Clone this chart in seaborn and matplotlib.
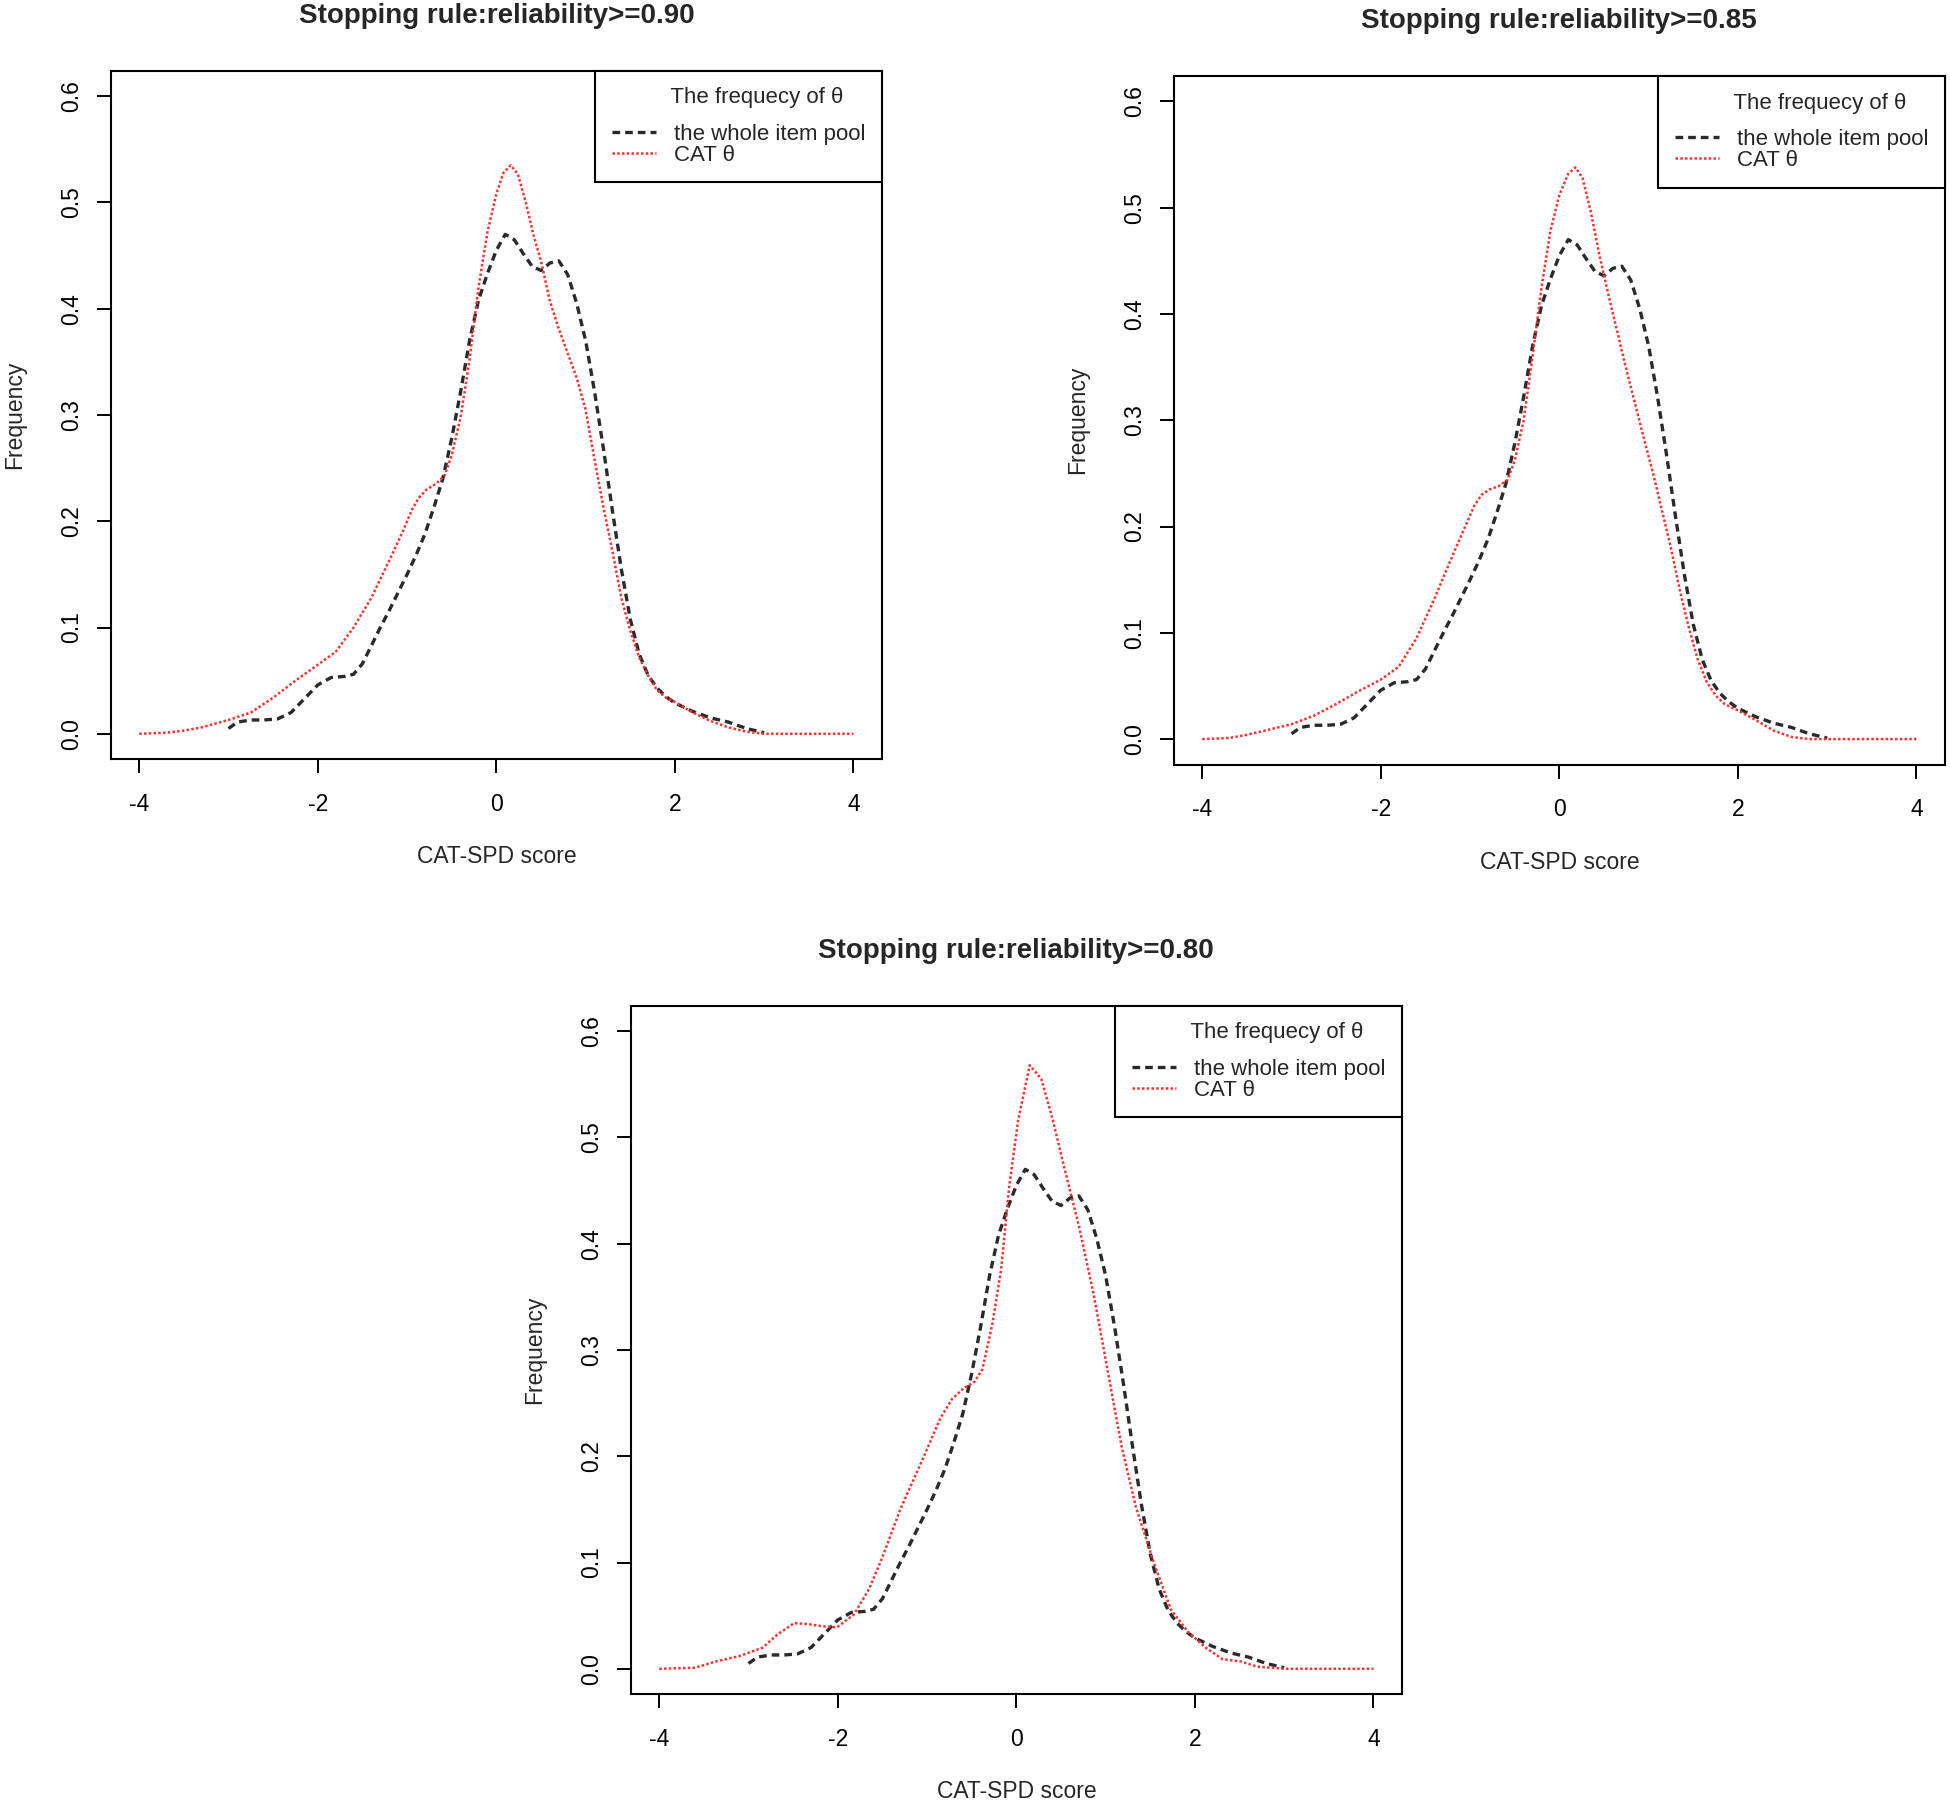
import numpy as np
import pandas as pd
import matplotlib
matplotlib.use("Agg")
import matplotlib.pyplot as plt
import seaborn as sns

# ---------------- data ----------------
titles = ["Stopping rule:reliability>=0.90",
          "Stopping rule:reliability>=0.85",
          "Stopping rule:reliability>=0.80"]
legend_title = "The frequecy of \u03b8"
series_names = ["the whole item pool", "CAT \u03b8"]
x_label = "CAT-SPD score"
y_label = "Frequency"
x_ticks = [-4, -2, 0, 2, 4]
y_ticks = [0.0, 0.1, 0.2, 0.3, 0.4, 0.5, 0.6]
y_tick_labels = ["0.0", "0.1", "0.2", "0.3", "0.4", "0.5", "0.6"]

# whole item pool density (same in every panel)
pool_x = [-3.0, -2.9, -2.75, -2.6, -2.45, -2.3, -2.15, -2.0, -1.85, -1.7, -1.6, -1.5,
          -1.4, -1.3, -1.2, -1.1, -1.0, -0.9, -0.8, -0.7, -0.6, -0.5, -0.4, -0.3,
          -0.2, -0.1, 0.0, 0.1, 0.2, 0.3, 0.4, 0.5, 0.6, 0.7, 0.8, 0.9, 1.0, 1.1,
          1.2, 1.3, 1.4, 1.5, 1.6, 1.7, 1.8, 1.9, 2.0, 2.2, 2.4, 2.6, 2.8, 3.0]
pool_y = [0.005, 0.011, 0.013, 0.013, 0.014, 0.020, 0.033, 0.046, 0.053, 0.054, 0.056, 0.066,
          0.083, 0.100, 0.116, 0.133, 0.150, 0.168, 0.188, 0.213, 0.240, 0.278, 0.322, 0.370,
          0.408, 0.433, 0.455, 0.470, 0.465, 0.452, 0.440, 0.436, 0.443, 0.445, 0.432, 0.405,
          0.370, 0.322, 0.268, 0.210, 0.155, 0.108, 0.075, 0.055, 0.043, 0.035, 0.029, 0.021,
          0.015, 0.011, 0.005, 0.001]

# CAT theta density, reliability >= 0.90
cat90_x = [-4.0, -3.7, -3.5, -3.3, -3.0, -2.75, -2.5, -2.25, -2.0, -1.8, -1.6, -1.4, -1.2,
           -1.05, -0.95, -0.87, -0.78, -0.68, -0.58, -0.5, -0.4, -0.3, -0.2, -0.1, 0.0, 0.08,
           0.16, 0.24, 0.33, 0.42, 0.5, 0.6, 0.7, 0.8, 0.9, 1.0, 1.1, 1.2, 1.3, 1.4, 1.5, 1.6,
           1.7, 1.8, 1.9, 2.0, 2.2, 2.4, 2.6, 2.8, 3.0, 3.5, 4.0]
cat90_y = [0.0, 0.001, 0.003, 0.006, 0.013, 0.020, 0.034, 0.050, 0.065, 0.077, 0.100, 0.128, 0.163,
           0.190, 0.210, 0.222, 0.230, 0.235, 0.243, 0.262, 0.298, 0.352, 0.420, 0.472, 0.508, 0.528,
           0.535, 0.527, 0.500, 0.468, 0.445, 0.407, 0.381, 0.358, 0.335, 0.305, 0.258, 0.213, 0.172,
           0.128, 0.097, 0.072, 0.055, 0.041, 0.034, 0.030, 0.020, 0.012, 0.006, 0.002, 0.0, 0.0, 0.0]

# CAT theta density, reliability >= 0.85
cat85_x = [-4.0, -3.7, -3.5, -3.3, -3.0, -2.75, -2.5, -2.25, -2.0, -1.8, -1.6, -1.4, -1.2,
           -1.05, -0.95, -0.87, -0.78, -0.68, -0.58, -0.5, -0.4, -0.3, -0.2, -0.1, 0.0, 0.1, 0.18,
           0.26, 0.35, 0.45, 0.55, 0.65, 0.75, 0.85, 0.95, 1.05, 1.15, 1.25, 1.35, 1.45, 1.55,
           1.65, 1.75, 1.85, 2.0, 2.2, 2.4, 2.6, 2.8, 3.0, 4.0]
cat85_y = [0.0, 0.001, 0.004, 0.008, 0.014, 0.022, 0.033, 0.045, 0.056, 0.068, 0.095, 0.132, 0.172,
           0.201, 0.220, 0.230, 0.235, 0.238, 0.244, 0.262, 0.300, 0.360, 0.425, 0.478, 0.512, 0.532,
           0.538, 0.528, 0.497, 0.455, 0.418, 0.383, 0.348, 0.315, 0.282, 0.250, 0.215, 0.180, 0.140,
           0.105, 0.075, 0.054, 0.041, 0.033, 0.027, 0.018, 0.008, 0.002, 0.0, 0.0, 0.0]

# CAT theta density, reliability >= 0.80
cat80_x = [-4.0, -3.6, -3.36, -3.1, -2.84, -2.68, -2.49, -2.33, -2.17, -2.01, -1.82, -1.65, -1.5,
           -1.3, -1.04, -0.85, -0.72, -0.59, -0.47, -0.38, -0.27, -0.17, -0.08, 0.02, 0.15, 0.28,
           0.41, 0.53, 0.7, 0.86, 1.02, 1.18, 1.34, 1.54, 1.73, 1.92, 2.12, 2.31, 2.51, 2.7, 3.02, 4.0]
cat80_y = [0.0, 0.001, 0.007, 0.012, 0.020, 0.032, 0.043, 0.042, 0.040, 0.039, 0.051, 0.075, 0.105,
           0.150, 0.199, 0.236, 0.254, 0.264, 0.270, 0.282, 0.324, 0.376, 0.454, 0.516, 0.568, 0.555,
           0.516, 0.474, 0.417, 0.355, 0.282, 0.209, 0.152, 0.100, 0.056, 0.035, 0.020, 0.009, 0.007,
           0.002, 0.0, 0.0]

cat_x = [cat90_x, cat85_x, cat80_x]
cat_y = [cat90_y, cat85_y, cat80_y]

# ---------------- style ----------------
sns.set_theme(style="ticks")
plt.rcParams["font.family"] = ["Liberation Sans", "DejaVu Sans"]
plt.rcParams["axes.unicode_minus"] = False

fig = plt.figure(figsize=(19.5, 18.05), dpi=100)
positions = [
    [0.05677, 0.57934, 0.39554, 0.38150],
    [0.60190, 0.57640, 0.39554, 0.38150],
    [0.32344, 0.06133, 0.39554, 0.38150],
]

for i, pos in enumerate(positions):
    ax = fig.add_axes(pos)
    pool_df = pd.DataFrame({"x": pool_x, "y": pool_y})
    cat_df = pd.DataFrame({"x": cat_x[i], "y": cat_y[i]})
    sns.lineplot(data=pool_df, x="x", y="y", ax=ax, color="#2a2a2a",
                 linestyle=(0, (2.3, 1.5)), linewidth=2.4, sort=False,
                 estimator=None, label=series_names[0])
    sns.lineplot(data=cat_df, x="x", y="y", ax=ax, color="#ff3030",
                 linestyle=(0, (1.0, 0.9)), linewidth=1.8, sort=False,
                 estimator=None, label=series_names[1])

    ax.set_xlim(-4.32, 4.32)
    ax.set_ylim(-0.024, 0.624)
    ax.set_xticks(x_ticks)
    ax.set_xticklabels([str(t) for t in x_ticks])
    ax.set_yticks(y_ticks)
    ax.set_yticklabels(y_tick_labels, rotation=90, va="center")
    ax.tick_params(axis="both", direction="out", length=10, width=1.4,
                   labelsize=16.5, colors="black")
    ax.tick_params(axis="x", pad=14)
    ax.tick_params(axis="y", pad=10)
    for sp in ax.spines.values():
        sp.set_visible(True)
        sp.set_color("black")
        sp.set_linewidth(1.5)

    ax.set_xlabel(x_label, fontsize=16.5)
    ax.xaxis.set_label_coords(0.5, -0.1416)
    ax.xaxis.label.set_va("center")
    ax.set_ylabel(y_label, fontsize=16.5)
    ax.yaxis.set_label_coords(-0.124, 0.5)
    ax.yaxis.label.set_va("center")

    ax.text(0.5, 1.0799, titles[i], transform=ax.transAxes, ha="center",
            va="center", fontsize=20, fontweight="bold")

    handles = ax.get_lines()[:2]
    leg = ax.legend(handles=handles, labels=series_names,
                    title="      " + legend_title + "\n",
                    loc="upper right", bbox_to_anchor=(1, 1), borderaxespad=0,
                    fancybox=False, framealpha=1, edgecolor="black",
                    fontsize=16, title_fontsize=16, handlelength=2.0,
                    handletextpad=0.8, borderpad=0.75, labelspacing=0.0)
    leg.get_title().set_linespacing(0.65)
    leg.get_frame().set_linewidth(1.5)

fig.savefig("out.png", dpi=100, facecolor="white")
